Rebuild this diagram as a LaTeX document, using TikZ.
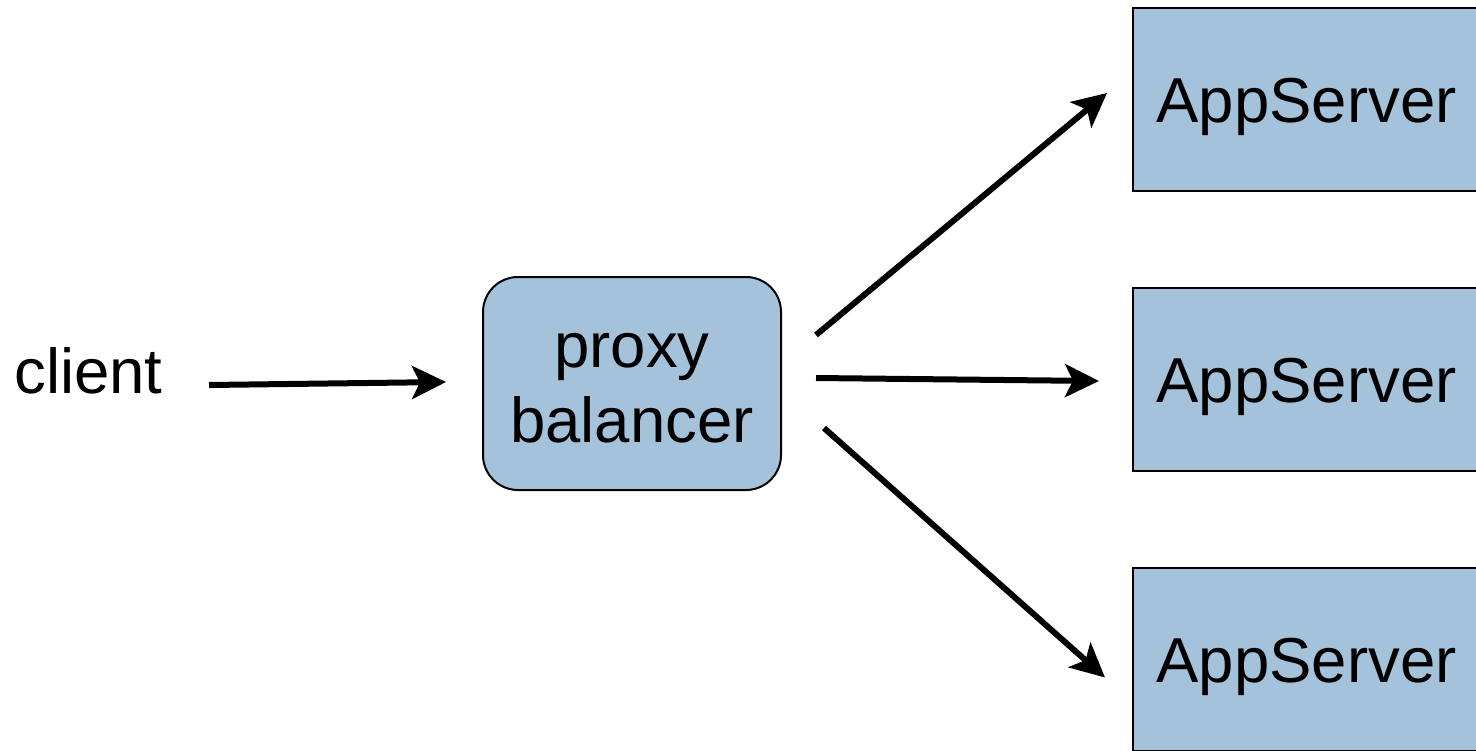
\documentclass[tikz,border=0pt]{standalone}
\usepackage{fontspec}
\setmainfont{Liberation Sans}
\usetikzlibrary{arrows.meta,calc}
\definecolor{boxblue}{RGB}{165,194,219}
\begin{document}
\begin{tikzpicture}[x=0.5pt,y=-0.5pt,
  label text/.style={font=\fontsize{31.75pt}{37.5pt}\selectfont, text=black},
  capline/.style={text height=22.7pt, text depth=0pt},
  server/.style={label text, capline, draw=black, line width=1pt, fill=boxblue,
    minimum width=173.5pt, minimum height=91.5pt, inner sep=0pt},
  balancer/.style={label text, align=center, text height=58.5pt, text depth=0pt,
    draw=black, line width=1pt, fill=boxblue,
    rounded corners=17.5pt, minimum width=149pt, minimum height=106.5pt, inner sep=0pt},
  flow/.style={line width=3pt, -{Stealth[length=17pt, width=16.5pt, inset=4pt]}}]
  \useasboundingbox (0,0) rectangle (1476,750);
  \clip (0,0) rectangle (1476,750);

  % nodes
  \node (client) [label text, capline, inner sep=0pt] at (88.5,370.5) {client};
  \node (proxy) [balancer] at (632,383.5) {proxy\\balancer};
  \node (app1) [server] at (1306.5,99.5) {AppServer};
  \node (app2) [server] at (1306.5,379.5) {AppServer};
  \node (app3) [server] at (1306.5,659.5) {AppServer};

  % request flow
  \draw[flow] ($(proxy.west)+(-273,1.5)$) -- ($(proxy.west)+(-36,-1.5)$);
  \draw[flow] ($(proxy.east)+(34,-48.5)$) -- ($(app1.west)+(-25,-6.5)$);
  \draw[flow] ($(proxy.east)+(34,-5.5)$) -- ($(app2.west)+(-33,1.5)$);
  \draw[flow] ($(proxy.east)+(42,44.5)$) -- ($(app3.west)+(-27,18)$);
\end{tikzpicture}
\end{document}
